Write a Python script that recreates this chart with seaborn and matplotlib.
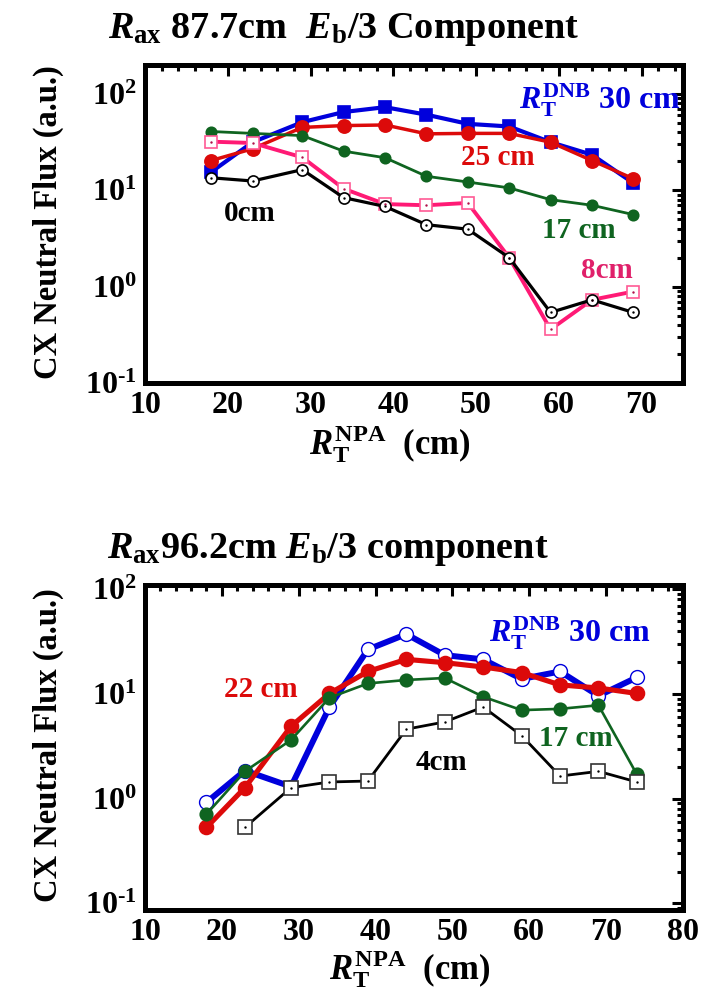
import numpy as np
import pandas as pd
import matplotlib
matplotlib.use("Agg")
import matplotlib.pyplot as plt
import seaborn as sns
from matplotlib.ticker import FixedLocator, FixedFormatter, MultipleLocator, LogLocator, NullFormatter

sns.set_theme(style="white")
plt.rcParams["font.family"] = ["Liberation Serif", "DejaVu Serif"]
plt.rcParams["font.weight"] = "bold"
plt.rcParams["mathtext.fontset"] = "custom"
plt.rcParams["mathtext.rm"] = "Liberation Serif:bold"
plt.rcParams["mathtext.it"] = "Liberation Serif:bold:italic"
plt.rcParams["mathtext.bf"] = "Liberation Serif:bold"
for key in ("text.color", "axes.labelcolor", "xtick.color", "ytick.color"):
    plt.rcParams[key] = "black"

# ---- Rax 87.7 cm, Eb/3 component ----
r_npa_a = [18, 23, 29, 34, 39, 44, 49, 54, 59, 64, 69]
a_30cm = [15.5, 31.6, 51, 65, 73, 61, 49, 46, 31.6, 23.4, 11.9]
a_25cm = [20.4, 27, 45, 47, 47.7, 38.6, 39, 39, 31.6, 20.4, 13.2]
a_17cm = [40.8, 39, 37, 25.5, 21.8, 14, 12.2, 10.6, 8.0, 7.0, 5.6]
a_8cm = [32, 31, 22, 10.4, 7.2, 7.0, 7.4, 2.0, 0.36, 0.73, 0.89]
a_0cm = [13.5, 12.5, 16.4, 8.4, 6.8, 4.4, 3.95, 2.0, 0.54, 0.73, 0.54]

# ---- Rax 96.2 cm, Eb/3 component ----
r_npa_b = [18, 23, 29, 34, 39, 44, 49, 54, 59, 64, 69, 74]
b_30cm = [0.92, 1.85, 1.3, 7.5, 26.6, 37.3, 23.5, 21.4, 13.9, 16.4, 9.6, 14.4]
b_22cm = [0.53, 1.27, 4.9, 10.1, 16.4, 21.4, 19.9, 18.1, 16.0, 12.2, 11.4, 10.1]
b_17cm = [0.71, 1.82, 3.63, 9.2, 12.6, 13.6, 14.2, 9.4, 7.0, 7.2, 7.8, 1.7]
r_npa_b4 = [23, 29, 34, 39, 44, 49, 54, 59, 64, 69, 74]
b_4cm = [0.53, 1.27, 1.44, 1.47, 4.6, 5.4, 7.5, 4.0, 1.64, 1.82, 1.44]

BLUE = "#0000DC"
RED = "#DC0A0A"
GREEN = "#0F6420"
PINK = "#FF1A75"
BLACK = "#000000"

W, H = 703, 992
fig = plt.figure(figsize=(W / 100, H / 100), dpi=100)
ax1 = fig.add_axes([145 / W, 1 - 383 / H, 538 / W, 318 / H])
ax2 = fig.add_axes([145 / W, 1 - 910 / H, 538 / W, 325 / H])


def draw(ax, x, y, color, lw, marker, ms, filled=True, dot=False, mec=None, mew=1.2,
         dotcolor="black"):
    sns.lineplot(x=x, y=y, ax=ax, color=color, lw=lw, marker=marker, markersize=ms,
                 markerfacecolor=color if filled else "white",
                 markeredgecolor=mec if mec else color, markeredgewidth=mew,
                 sort=False, estimator=None, legend=False)
    if dot:
        sns.scatterplot(x=x, y=y, ax=ax, color=dotcolor, s=3, marker="o",
                        linewidth=0, legend=False, zorder=5)


# top panel
draw(ax1, r_npa_a, a_30cm, BLUE, 3, "s", 9)
draw(ax1, r_npa_a, a_25cm, RED, 2.5, "o", 9.5)
draw(ax1, r_npa_a, a_17cm, GREEN, 2, "o", 7.5)
draw(ax1, r_npa_a, a_8cm, PINK, 2.8, "s", 8, filled=False, dot=True, mec="#FF5A95",
     dotcolor="#B0104A")
draw(ax1, r_npa_a, a_0cm, BLACK, 2.3, "o", 8, filled=False, dot=True)

# bottom panel
draw(ax2, r_npa_b, b_30cm, BLUE, 4.3, "o", 10, filled=False, mew=1.0)
draw(ax2, r_npa_b, b_22cm, RED, 3.7, "o", 10)
draw(ax2, r_npa_b, b_17cm, GREEN, 1.9, "o", 9)
draw(ax2, r_npa_b4, b_4cm, BLACK, 2, "s", 9.5, filled=False, dot=True, mec="#333333")

tick_fs = 23
minus_one = r"$\mathregular{10^{\text{-}1}}$"
for ax, xmax, ylim in ((ax1, 75, (0.1, 200)), (ax2, 80, (0.086, 110))):
    ax.set_yscale("log")
    ax.set_xlim(10, xmax)
    ax.set_ylim(*ylim)
    ax.xaxis.set_major_locator(MultipleLocator(10))
    ax.xaxis.set_minor_locator(MultipleLocator(2))
    ax.yaxis.set_major_locator(FixedLocator([0.1, 1, 10, 100]))
    ax.yaxis.set_major_formatter(FixedFormatter(
        [minus_one, r"$\mathregular{10^{0}}$",
         r"$\mathregular{10^{1}}$", r"$\mathregular{10^{2}}$"]))
    ax.yaxis.set_minor_locator(LogLocator(base=10, subs=np.arange(2, 10)))
    ax.yaxis.set_minor_formatter(NullFormatter())
    ax.tick_params(which="both", direction="in", top=True, right=True, width=2.2,
                   colors="black", labelcolor="black", labelsize=tick_fs)
    ax.tick_params(which="major", length=8, pad=6)
    ax.tick_params(which="minor", length=4.5)
    for lab in ax.get_xticklabels() + ax.get_yticklabels():
        lab.set_fontweight("bold")
        lab.set_color("black")
    for s in ax.spines.values():
        s.set_visible(True)
        s.set_linewidth(3.6)
        s.set_color("black")
    ax.set_xlabel("")
    ax.set_ylabel("")
    ax.set_facecolor("white")

ann_fs = 21
dnb = r"$\mathit{R}_{\mathrm{T}}^{\mathrm{DNB}}$ 30 cm"
# top panel annotations
ax1.text(55.2, 85, dnb, color=BLUE, fontsize=23, va="center", ha="left")
ax1.text(48.2, 22, "25 cm", color=RED, fontsize=ann_fs, va="center")
ax1.text(58.0, 3.86, "17 cm", color=GREEN, fontsize=ann_fs, va="center")
ax1.text(19.5, 5.7, "0cm", color=BLACK, fontsize=ann_fs, va="center")
ax1.text(62.7, 1.47, "8cm", color="#E0206A", fontsize=ann_fs, va="center")

# bottom panel annotations
ax2.text(54.7, 37.6, dnb, color=BLUE, fontsize=23, va="center", ha="left")
ax2.text(20.3, 11.0, "22 cm", color=RED, fontsize=ann_fs, va="center")
ax2.text(61.2, 3.76, "17 cm", color=GREEN, fontsize=ann_fs, va="center")
ax2.text(45.2, 2.19, "4cm", color=BLACK, fontsize=ann_fs, va="center")

# titles
fig.text(108 / W, 1 - 30 / H, r"$\mathit{R}_{\mathrm{ax}}$ 87.7cm  $\mathit{E}_{\mathrm{b}}$/3 Component",
         fontsize=27.5, va="center", ha="left", color="black")
fig.text(107 / W, 1 - 550 / H, r"$\mathit{R}_{\mathrm{ax}}$96.2cm $\mathit{E}_{\mathrm{b}}$/3 component",
         fontsize=27.5, va="center", ha="left", color="black")

# axis labels
for cy in (222, 745):
    fig.text(48 / W, 1 - cy / H, "CX Neutral Flux (a.u.)", rotation=90, fontsize=23.5,
             va="center", ha="center", color="black")
xlab = r"$\mathit{R}_{\mathrm{T}}^{\mathrm{NPA}}$  (cm)"
fig.text(390 / W, 1 - 444 / H, xlab, fontsize=25, va="center", ha="center", color="black")
fig.text(410 / W, 1 - 969 / H, xlab, fontsize=25, va="center", ha="center", color="black")

fig.savefig("out.png", dpi=100, facecolor="white")
